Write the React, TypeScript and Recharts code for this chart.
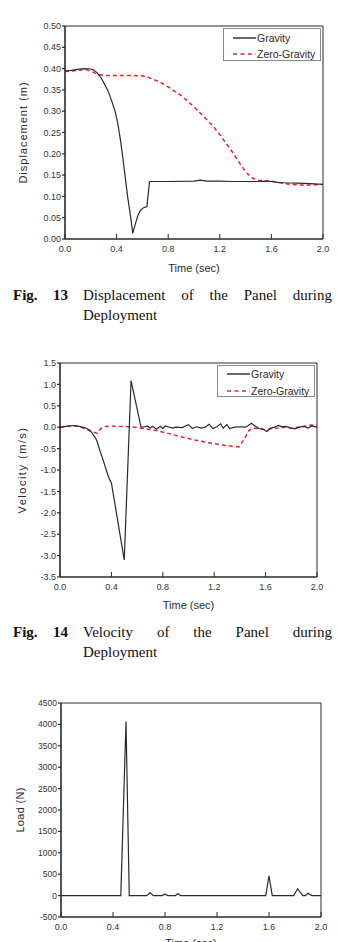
import React from 'react';
import { LineChart, Line, XAxis, YAxis, ReferenceArea, Legend, Label } from 'recharts';

// ---- shared axis values ----
const timeTicks = [0, 0.4, 0.8, 1.2, 1.6, 2.0];
const dispTicks = [0, 0.05, 0.1, 0.15, 0.2, 0.25, 0.3, 0.35, 0.4, 0.45, 0.5];
const velTicks = [-3.5, -3.0, -2.5, -2.0, -1.5, -1.0, -0.5, 0, 0.5, 1.0, 1.5];
const loadTicks = [-500, 0, 500, 1000, 1500, 2000, 2500, 3000, 3500, 4000, 4500];

// ---- Fig. 13: displacement (m) vs time (s) ----
const dispGravity: [number, number][] = [
  [0, 0.395], [0.05, 0.396], [0.1, 0.398], [0.15, 0.4], [0.2, 0.399], [0.22, 0.397],
  [0.25, 0.39], [0.28, 0.378], [0.3, 0.367], [0.33, 0.35], [0.36, 0.326], [0.39, 0.298],
  [0.41, 0.27], [0.43, 0.232], [0.45, 0.187], [0.465, 0.15], [0.485, 0.1], [0.51, 0.05],
  [0.525, 0.013], [0.545, 0.035], [0.565, 0.055], [0.585, 0.067], [0.605, 0.073],
  [0.635, 0.076], [0.655, 0.135], [0.8, 0.135], [1.0, 0.136], [1.05, 0.138], [1.1, 0.136],
  [1.2, 0.136], [1.3, 0.135], [1.4, 0.135], [1.5, 0.135], [1.55, 0.136], [1.6, 0.135],
  [1.65, 0.133], [1.7, 0.132], [1.8, 0.131], [1.9, 0.13], [2.0, 0.128],
];
const dispZeroGravity: [number, number][] = [
  [0, 0.393], [0.05, 0.394], [0.1, 0.396], [0.15, 0.398], [0.2, 0.394], [0.25, 0.387],
  [0.3, 0.384], [0.4, 0.384], [0.5, 0.384], [0.6, 0.383], [0.65, 0.379], [0.7, 0.373],
  [0.75, 0.366], [0.8, 0.357], [0.9, 0.337], [1.0, 0.31], [1.1, 0.28], [1.15, 0.264],
  [1.2, 0.245], [1.25, 0.224], [1.3, 0.203], [1.35, 0.18], [1.4, 0.158], [1.45, 0.143],
  [1.5, 0.138], [1.55, 0.137], [1.6, 0.136], [1.65, 0.133], [1.7, 0.13], [1.75, 0.128],
  [1.8, 0.127], [1.9, 0.127], [2.0, 0.128],
];

// ---- Fig. 14: velocity (m/s) vs time (s) ----
const velGravity: [number, number][] = [
  [0, 0], [0.05, 0.02], [0.1, 0.04], [0.15, 0.02], [0.2, -0.02], [0.233, -0.07],
  [0.26, -0.18], [0.285, -0.3], [0.311, -0.55], [0.337, -0.78], [0.36, -1.0],
  [0.385, -1.22], [0.4, -1.3], [0.5, -3.1], [0.553, 1.09], [0.63, 0.01], [0.65, 0],
  [0.68, 0.03], [0.7, -0.02], [0.72, 0.02], [0.75, -0.05], [0.78, 0.02], [0.8, -0.03],
  [0.82, 0.03], [0.85, 0], [0.88, -0.02], [0.9, 0], [0.95, -0.01], [1.0, 0.06],
  [1.03, -0.03], [1.06, 0.01], [1.1, -0.02], [1.13, 0], [1.16, 0.07], [1.19, -0.03],
  [1.22, 0.01], [1.25, 0.08], [1.27, -0.02], [1.3, 0.06], [1.32, -0.03], [1.36, 0],
  [1.4, 0.01], [1.44, 0], [1.46, 0.03], [1.49, 0.09], [1.52, 0.02], [1.55, -0.03],
  [1.58, -0.05], [1.61, -0.1], [1.64, -0.02], [1.67, 0], [1.7, 0.04], [1.73, 0.01],
  [1.76, 0.02], [1.8, -0.02], [1.83, -0.04], [1.86, 0], [1.9, 0.02], [1.93, -0.02],
  [1.96, 0.03], [2.0, 0],
];
const velZeroGravity: [number, number][] = [
  [0, 0], [0.05, 0.02], [0.1, 0.03], [0.15, 0.02], [0.2, -0.04], [0.25, -0.11],
  [0.29, -0.14], [0.31, -0.06], [0.33, 0], [0.37, 0.02], [0.45, 0.02], [0.55, 0.01],
  [0.65, -0.03], [0.75, -0.08], [0.85, -0.15], [0.95, -0.23], [1.05, -0.3], [1.15, -0.36],
  [1.25, -0.41], [1.35, -0.45], [1.39, -0.46], [1.43, -0.3], [1.47, -0.08], [1.5, -0.02],
  [1.55, -0.03], [1.6, -0.06], [1.65, -0.03], [1.7, -0.02], [1.75, 0], [1.8, -0.02],
  [1.85, 0], [1.9, 0.02], [1.95, 0.05], [2.0, 0.04],
];

// ---- load (N) vs time (s) ----
const loadGravity: [number, number][] = [
  [0, 0], [0.46, 0], [0.5, 4070], [0.525, 0], [0.66, 0], [0.685, 70], [0.71, 0],
  [0.78, 0], [0.8, 40], [0.82, 0], [0.88, 0], [0.9, 45], [0.92, 0], [1.575, 0],
  [1.6, 460], [1.625, 0], [1.79, 0], [1.82, 160], [1.86, 0], [1.88, 0], [1.9, 55],
  [1.93, 0], [2.0, 0],
];

const toRows = (pts: [number, number][]) => pts.map(([t, v]) => ({ t, v }));

const SANS = '"Liberation Sans", Arial, sans-serif';
const SERIF = '"Liberation Serif", "Times New Roman", serif';
const INK = '#2a2a2a';
const RED = '#e5262b';
const X_TICK_MARGIN = 7;

// bottom axis tick: label below, tick mark pointing into the plot
const InwardTick = (props: any) => {
  const { x, y, payload } = props;
  const base = y - X_TICK_MARGIN;
  return (
    <g>
      <line x1={x} x2={x} y1={base} y2={base - 5} stroke={INK} strokeWidth={1} />
      <text x={x} y={y} dy="0.71em" textAnchor="middle" fontSize={9} fontFamily={SANS} fill="#333">
        {Number(payload.value).toFixed(1)}
      </text>
    </g>
  );
};

const YTitle = ({ viewBox, text, cx, spacing }: any) => {
  const cy = viewBox.y + viewBox.height / 2;
  return (
    <text
      x={cx}
      y={cy}
      transform={`rotate(-90 ${cx} ${cy})`}
      textAnchor="middle"
      dominantBaseline="central"
      fontSize={11}
      letterSpacing={spacing}
      fontFamily={SANS}
      fill={INK}
    >
      {text}
    </text>
  );
};

const XTitle = ({ viewBox, dy }: any) => (
  <text
    x={viewBox.x + viewBox.width / 2}
    y={viewBox.y + dy}
    textAnchor="middle"
    dominantBaseline="central"
    fontSize={11}
    fontFamily={SANS}
    fill={INK}
  >
    Time (sec)
  </text>
);

const LegendBox = ({ h, r1, r2 }: { h: number; r1: number; r2: number }) => (
  <div
    style={{
      position: 'relative',
      width: 98,
      height: h,
      boxSizing: 'border-box',
      border: '1px solid #8a8a8a',
      background: '#fff',
      fontFamily: SANS,
      fontSize: 10.5,
      color: INK,
    }}
  >
    {[
      { label: 'Gravity', color: INK, dash: undefined, top: r1 },
      { label: 'Zero-Gravity', color: RED, dash: '4 3.5', top: r2 },
    ].map((row) => (
      <div key={row.label} style={{ position: 'absolute', left: 0, top: row.top - 7, height: 14, width: 98 }}>
        <svg width={34} height={14} style={{ position: 'absolute', left: 0, top: 0 }}>
          <line x1={9} x2={32} y1={7} y2={7} stroke={row.color} strokeWidth={1.4} strokeDasharray={row.dash} />
        </svg>
        <span style={{ position: 'absolute', left: 33, top: 0, lineHeight: '14px', whiteSpace: 'nowrap' }}>
          {row.label}
        </span>
      </div>
    ))}
  </div>
);

const yTickStyle = { fontSize: 9, fontFamily: SANS, fill: '#333' };

const Caption = ({ top, num, line1, line2 }: { top: number; num: string; line1: string; line2: string }) => (
  <div style={{ position: 'absolute', left: 0, top, width: 337, fontFamily: SERIF, fontSize: 15, lineHeight: '20px', color: '#111' }}>
    <span style={{ position: 'absolute', left: 13, top: 0, fontWeight: 'bold' }}>Fig.</span>
    <span style={{ position: 'absolute', left: 53, top: 0, fontWeight: 'bold' }}>{num}</span>
    <div style={{ position: 'absolute', left: 83, top: 0, width: 249, textAlign: 'justify', textAlignLast: 'justify' as any }}>
      {line1}
    </div>
    <span style={{ position: 'absolute', left: 83, top: 20 }}>{line2}</span>
  </div>
);

export default function App() {
  return (
    <div style={{ position: 'absolute', left: 0, top: 0, width: 337, height: 942, background: '#fff', overflow: 'hidden' }}>
      {/* Fig. 13 */}
      <div style={{ position: 'absolute', left: 0, top: 0 }}>
        <LineChart width={337} height={285} margin={{ top: 26, right: 14, bottom: 15, left: 0 }}>
          <XAxis
            dataKey="t"
            type="number"
            domain={[0, 2]}
            ticks={timeTicks}
            interval={0}
            height={31}
            stroke={INK}
            strokeWidth={1.2}
            tickSize={0}
            tickLine={false}
            tickMargin={X_TICK_MARGIN}
            tick={<InwardTick />}
            allowDataOverflow
          >
            <Label content={(p: any) => <XTitle {...p} dy={29} />} />
          </XAxis>
          <YAxis
            type="number"
            domain={[0, 0.5]}
            ticks={dispTicks}
            interval={0}
            width={65}
            stroke={INK}
            strokeWidth={1.2}
            tickSize={3}
            tickMargin={1}
            tick={yTickStyle}
            tickFormatter={(v: number) => v.toFixed(2)}
            allowDataOverflow
          >
            <Label content={(p: any) => <YTitle {...p} text="Displacement (m)" cx={23} spacing={1} />} />
          </YAxis>
          <ReferenceArea x1={0} x2={2} y1={0} y2={0.5} fill="none" stroke={INK} strokeWidth={1} ifOverflow="visible" />
          <Legend
            layout="vertical"
            align="center"
            verticalAlign="middle"
            wrapperStyle={{ left: 223, top: 28, width: 98, height: 33 }}
            content={() => <LegendBox h={33} r1={9} r2={25} />}
          />
          <Line data={toRows(dispZeroGravity)} dataKey="v" name="Zero-Gravity" stroke={RED} strokeWidth={1.5} strokeDasharray="4 3" dot={false} activeDot={false} isAnimationActive={false} />
          <Line data={toRows(dispGravity)} dataKey="v" name="Gravity" stroke={INK} strokeWidth={1.2} dot={false} activeDot={false} isAnimationActive={false} />
        </LineChart>
      </div>
      <Caption top={285} num="13" line1="Displacement of the Panel during" line2="Deployment" />

      {/* Fig. 14 */}
      <div style={{ position: 'absolute', left: 0, top: 330 }}>
        <LineChart width={337} height={285} margin={{ top: 33, right: 20, bottom: 15, left: 0 }}>
          <XAxis
            dataKey="t"
            type="number"
            domain={[0, 2]}
            ticks={timeTicks}
            interval={0}
            height={23}
            stroke={INK}
            strokeWidth={1.2}
            tickSize={0}
            tickLine={false}
            tickMargin={X_TICK_MARGIN}
            tick={<InwardTick />}
            allowDataOverflow
          >
            <Label content={(p: any) => <XTitle {...p} dy={28} />} />
          </XAxis>
          <YAxis
            type="number"
            domain={[-3.5, 1.5]}
            ticks={velTicks}
            interval={0}
            width={60}
            stroke={INK}
            strokeWidth={1.2}
            tickSize={3}
            tickMargin={1}
            tick={yTickStyle}
            tickFormatter={(v: number) => v.toFixed(1)}
            allowDataOverflow
          >
            <Label content={(p: any) => <YTitle {...p} text="Velocity (m/s)" cx={22} spacing={1.5} />} />
          </YAxis>
          <ReferenceArea x1={0} x2={2} y1={-3.5} y2={1.5} fill="none" stroke={INK} strokeWidth={1} ifOverflow="visible" />
          <Legend
            layout="vertical"
            align="center"
            verticalAlign="middle"
            wrapperStyle={{ left: 217, top: 35, width: 98, height: 32 }}
            content={() => <LegendBox h={32} r1={8} r2={25} />}
          />
          <Line data={toRows(velZeroGravity)} dataKey="v" name="Zero-Gravity" stroke={RED} strokeWidth={1.5} strokeDasharray="4 3" dot={false} activeDot={false} isAnimationActive={false} />
          <Line data={toRows(velGravity)} dataKey="v" name="Gravity" stroke={INK} strokeWidth={1.2} dot={false} activeDot={false} isAnimationActive={false} />
        </LineChart>
      </div>
      <Caption top={622} num="14" line1="Velocity of the Panel during" line2="Deployment" />

      {/* load */}
      <div style={{ position: 'absolute', left: 0, top: 670 }}>
        <LineChart width={337} height={290} margin={{ top: 33, right: 16, bottom: 18, left: 0 }}>
          <XAxis
            dataKey="t"
            type="number"
            domain={[0, 2]}
            ticks={timeTicks}
            interval={0}
            height={25}
            stroke={INK}
            strokeWidth={1.2}
            tickSize={0}
            tickLine={false}
            tickMargin={X_TICK_MARGIN}
            tick={<InwardTick />}
            allowDataOverflow
          >
            <Label content={(p: any) => <XTitle {...p} dy={26} />} />
          </XAxis>
          <YAxis
            type="number"
            domain={[-500, 4500]}
            ticks={loadTicks}
            interval={0}
            width={61}
            stroke={INK}
            strokeWidth={1.2}
            tickSize={3}
            tickMargin={1}
            tick={{ ...yTickStyle, fontSize: 8.5 }}
            allowDataOverflow
          >
            <Label content={(p: any) => <YTitle {...p} text="Load (N)" cx={20} spacing={0.3} />} />
          </YAxis>
          <ReferenceArea x1={0} x2={2} y1={-500} y2={4500} fill="none" stroke={INK} strokeWidth={1} ifOverflow="visible" />
          <Line data={toRows(loadGravity)} dataKey="v" name="Load" stroke={INK} strokeWidth={1.2} dot={false} activeDot={false} isAnimationActive={false} />
        </LineChart>
      </div>
    </div>
  );
}
